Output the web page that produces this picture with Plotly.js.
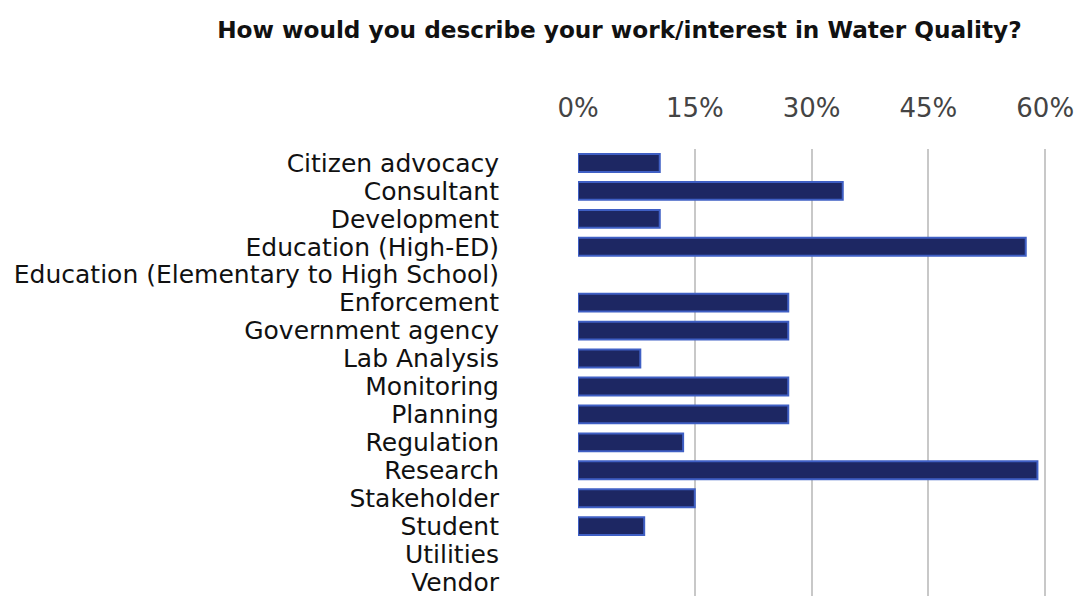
<!DOCTYPE html>
<html>
<head>
<meta charset="utf-8">
<script src="https://cdn.plot.ly/plotly-3.0.1.min.js"></script>
<style>html,body{margin:0;padding:0;background:#fff;}#chart{width:1081px;height:596px;}</style>
</head>
<body>
<div id="chart"></div>
<script>
const categories = [
  "Citizen advocacy",
  "Consultant",
  "Development",
  "Education (High-ED)",
  "Education (Elementary to High School)",
  "Enforcement",
  "Government agency",
  "Lab Analysis",
  "Monitoring",
  "Planning",
  "Regulation",
  "Research",
  "Stakeholder",
  "Student",
  "Utilities",
  "Vendor"
];
const percentValues = [10.5, 34, 10.5, 57.5, 0, 27, 27, 8, 27, 27, 13.5, 59, 15, 8.5, 0, 0];
const tickValues = [0, 15, 30, 45, 60];
const tickLabels = ["0%", "15%", "30%", "45%", "60%"];

const trace = {
  type: "bar",
  orientation: "h",
  y: categories,
  x: percentValues,
  width: 0.64,
  marker: {
    color: "#1d2763",
    line: { color: "#3f5fc4", width: percentValues.map(v => v > 0 ? 2 : 0) }
  },
  hoverinfo: "x+y"
};

const layout = {
  width: 1081,
  height: 596,
  paper_bgcolor: "#ffffff",
  plot_bgcolor: "#ffffff",
  showlegend: false,
  margin: { l: 578, r: 28, t: 149, b: 0 },
  title: {
    text: "<b>How would you describe your work/interest in Water Quality?</b>",
    font: { family: "DejaVu Sans, Arial, sans-serif", size: 23.2, color: "#111" },
    x: 0.573, xanchor: "center",
    y: 0.95, yanchor: "middle"
  },
  xaxis: {
    side: "top",
    range: [0, 61],
    tickmode: "array",
    tickvals: tickValues,
    ticktext: tickLabels,
    tickfont: { family: "DejaVu Sans, Arial, sans-serif", size: 26, color: "#444" },
    showgrid: true,
    gridcolor: "#c8c8c8",
    gridwidth: 2,
    zeroline: false,
    showline: false,
    ticks: "",
    ticklabelstandoff: 26,
    fixedrange: true
  },
  yaxis: {
    type: "category",
    autorange: "reversed",
    tickmode: "array",
    tickvals: categories,
    ticktext: categories,
    tickfont: { family: "DejaVu Sans, Arial, sans-serif", size: 25, color: "#111" },
    showgrid: false,
    zeroline: false,
    showline: false,
    ticks: "",
    ticklabelstandoff: 78,
    fixedrange: true
  }
};

Plotly.newPlot("chart", [trace], layout, { displayModeBar: false, staticPlot: true });
</script>
</body>
</html>
